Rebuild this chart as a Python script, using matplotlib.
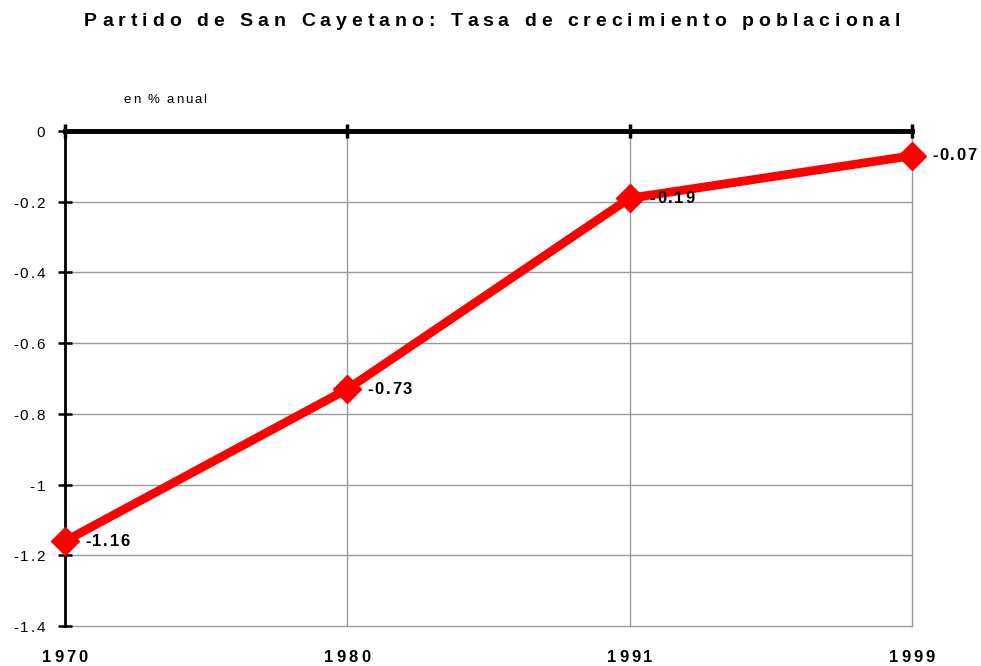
import matplotlib
matplotlib.use("Agg")
import matplotlib.pyplot as plt
import matplotlib.transforms as mtransforms
from matplotlib.font_manager import FontProperties

FAMILY = ["Liberation Sans", "DejaVu Sans"]
plt.rcParams["font.family"] = FAMILY

years = ["1970", "1980", "1991", "1999"]
rates = [-1.16, -0.73, -0.19, -0.07]
rate_labels = ["-1.16", "-0.73", "-0.19", "-0.07"]
y_ticks = [0, -0.2, -0.4, -0.6, -0.8, -1, -1.2, -1.4]
y_tick_labels = ["0", "-0.2", "-0.4", "-0.6", "-0.8", "-1", "-1.2", "-1.4"]
title = "Partido de San Cayetano: Tasa de crecimiento poblacional"
unit_label = "en % anual"


def spaced_text(fig, x, y, s, transform, track, dx=0, dy=0, ha="left", va="center",
                size=11, weight="normal"):
    # matplotlib has no letter spacing, so lay the characters out one by one
    renderer = fig.canvas.get_renderer()
    fp = FontProperties(family=FAMILY, size=size, weight=weight)

    def adv(p):
        bar = renderer.get_text_width_height_descent("||", fp, ismath=False)[0]
        return renderer.get_text_width_height_descent("|" + p + "|", fp, ismath=False)[0] - bar

    total = adv(s) + track * (len(s) - 1)
    start = {"left": 0, "center": -total / 2, "right": -total}[ha]
    for i, ch in enumerate(s):
        if ch == " ":
            continue
        off = start + adv(s[:i]) + i * track + dx
        tr = mtransforms.offset_copy(transform, fig=fig, x=off / fig.dpi, y=dy / fig.dpi,
                                     units="inches")
        fig.text(x, y, ch, transform=tr, ha="left", va=va, fontsize=size,
                 fontweight=weight, zorder=6)


fig = plt.figure(figsize=(9.81, 6.66), dpi=100)
ax = fig.add_axes([65 / 981, 1 - 626 / 666, (912 - 65) / 981, (626 - 131) / 666])

x = list(range(len(years)))
ax.plot(x, rates, color="#ff0000", linewidth=6.3, marker="D", markersize=14,
        solid_joinstyle="round", zorder=5, clip_on=False)

ax.set_xlim(0, 3)
ax.set_ylim(-1.4, 0)
ax.set_xticks(x)
ax.set_yticks(y_ticks)

ax.grid(True, color="#999999", linewidth=1)
ax.set_axisbelow(True)
for gl in ax.get_xgridlines() + ax.get_ygridlines():
    gl.set_clip_on(False)

for s in ["bottom", "right"]:
    ax.spines[s].set_visible(False)
ax.spines["top"].set_linewidth(3.5)
ax.spines["left"].set_linewidth(2)

ax.tick_params(axis="x", top=True, bottom=False, labeltop=False, labelbottom=False,
               direction="inout", length=10, width=2.5)
ax.tick_params(axis="y", direction="inout", length=10, width=1.8, labelleft=False)

# tick labels
xtrans = ax.get_xaxis_transform()
for xi, lab in zip(x, years):
    spaced_text(fig, xi, 0, lab, xtrans, track=3, dy=-31, ha="center",
                size=12, weight="bold")
ytrans = ax.get_yaxis_transform()
for yv, lab in zip(y_ticks, y_tick_labels):
    spaced_text(fig, 0, yv, lab, ytrans, track=2, dx=-20, dy=-2, ha="right", size=11)

# value labels
for xi, v, lab in zip(x, rates, rate_labels):
    spaced_text(fig, xi, v, lab, ax.transData, track=1.8, dx=20, ha="left",
                size=12, weight="bold")

spaced_text(fig, 165 / 981, 1 - 100 / 666, unit_label, fig.transFigure, track=1.8,
            ha="center", size=9.5)
spaced_text(fig, 492 / 981, 1 - 21 / 666, title, fig.transFigure, track=5,
            ha="center", size=14, weight="bold")

fig.savefig("out.png", dpi=100, facecolor="white")
